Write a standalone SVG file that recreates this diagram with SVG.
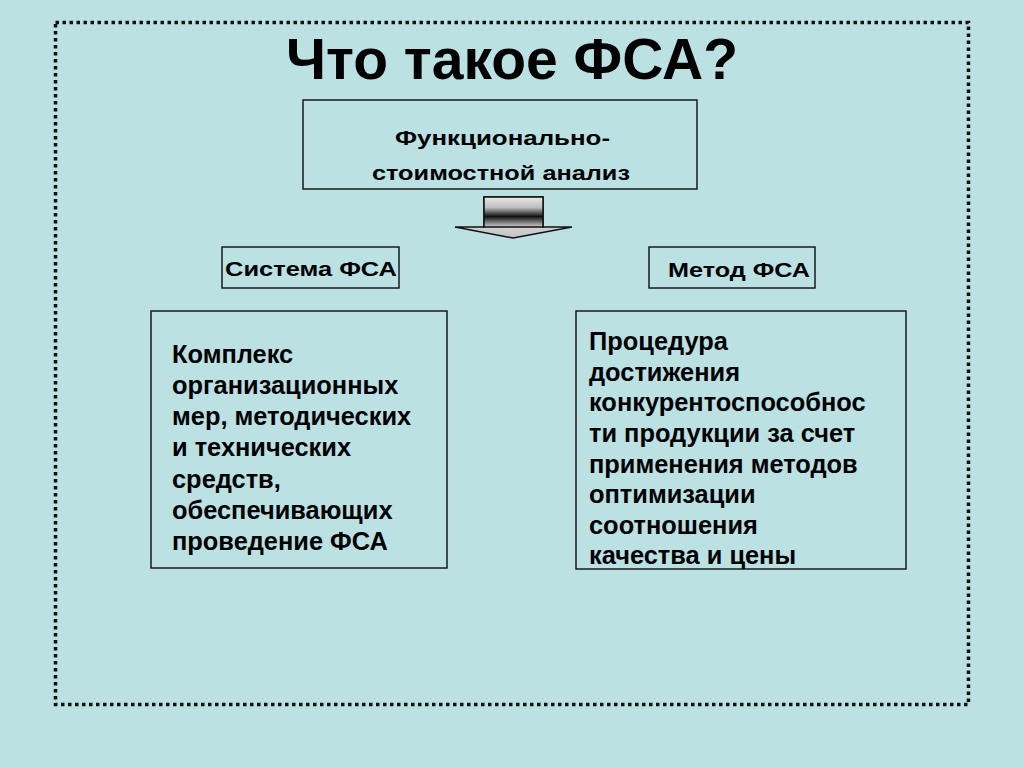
<svg xmlns="http://www.w3.org/2000/svg" width="1024" height="767" viewBox="0 0 1024 767">
<style>
.box{fill:none;stroke:#1a1a1a;stroke-width:1.5}
.t{font-family:"Liberation Sans",Arial,sans-serif;font-weight:bold;fill:#000}
.lbl{font-size:21px}
.body{font-size:25.4px}
</style>
<defs>
<linearGradient id="shaft" x1="0" y1="0" x2="0" y2="1">
<stop offset="0" stop-color="#e8e8e8"/>
<stop offset="0.35" stop-color="#bdbdbd"/>
<stop offset="0.65" stop-color="#111"/>
<stop offset="1" stop-color="#d0d0d0"/>
</linearGradient>
<linearGradient id="head" x1="0" y1="0" x2="0" y2="1">
<stop offset="0" stop-color="#f6f6f6"/>
<stop offset="1" stop-color="#c4c4c4"/>
</linearGradient>
</defs>
<rect width="1024" height="767" fill="#bce1e3"/>
<rect x="55.5" y="22.5" width="913" height="682" fill="none" stroke="#111" stroke-width="3.5" stroke-dasharray="3.5 3.5"/>
<text class="t" x="512" y="79" font-size="57" text-anchor="middle">Что такое ФСА?</text>
<g id="fsa">
<rect class="box" x="303" y="100" width="394" height="89"/>
<text class="t lbl" x="395" y="145" textLength="215" lengthAdjust="spacingAndGlyphs">Функционально-</text>
<text class="t lbl" x="372" y="180" textLength="258" lengthAdjust="spacingAndGlyphs">стоимостной анализ</text>
</g>
<g id="connectors">
<path d="M484,197 H543 V227 H572 L513,238 L455,227 H484 Z" fill="url(#head)" stroke="#111" stroke-width="1.5"/>
<rect x="484" y="197" width="59" height="30" fill="url(#shaft)" stroke="#111" stroke-width="1.5"/>
</g>
<g id="sistema">
<rect class="box" x="222" y="247" width="177" height="41"/>
<text class="t lbl" x="225" y="276" textLength="172" lengthAdjust="spacingAndGlyphs">Система ФСА</text>
</g>
<g id="metod">
<rect class="box" x="649" y="247" width="166" height="41"/>
<text class="t lbl" x="668" y="277" textLength="142" lengthAdjust="spacingAndGlyphs">Метод ФСА</text>
</g>
<g id="sistema-def">
<rect class="box" x="151" y="311" width="296" height="257"/>
<text class="t body" x="172" y="363">Комплекс</text>
<text class="t body" x="172" y="394">организационных</text>
<text class="t body" x="172" y="425">мер, методических</text>
<text class="t body" x="172" y="456">и технических</text>
<text class="t body" x="172" y="488">средств,</text>
<text class="t body" x="172" y="519">обеспечивающих</text>
<text class="t body" x="172" y="550">проведение ФСА</text>
</g>
<g id="metod-def">
<rect class="box" x="576" y="311" width="330" height="258"/>
<text class="t body" x="589" y="350">Процедура</text>
<text class="t body" x="589" y="381">достижения</text>
<text class="t body" x="589" y="411">конкурентоспособнос</text>
<text class="t body" x="589" y="442">ти продукции за счет</text>
<text class="t body" x="589" y="473">применения методов</text>
<text class="t body" x="589" y="503">оптимизации</text>
<text class="t body" x="589" y="534">соотношения</text>
<text class="t body" x="589" y="564">качества и цены</text>
</g>
</svg>
